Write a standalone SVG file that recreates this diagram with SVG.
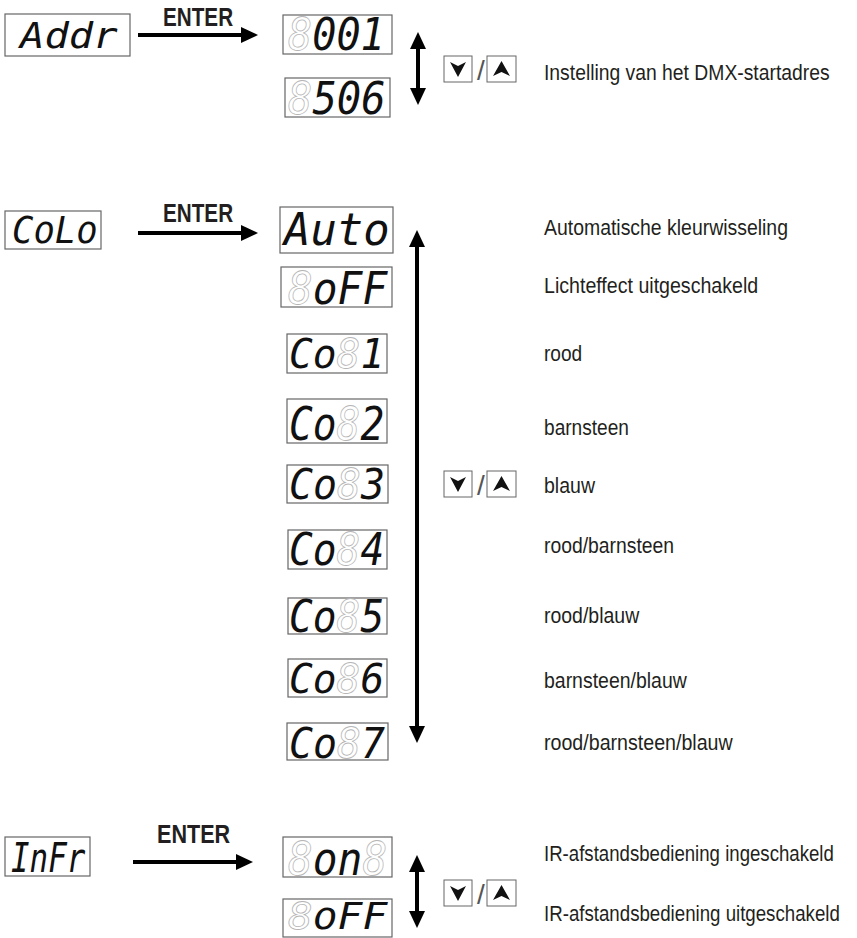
<svg xmlns="http://www.w3.org/2000/svg" width="857" height="938" viewBox="0 0 857 938">
<style>
.box{fill:#fff;stroke:#666;stroke-width:1.2}
.seg{font-family:"DejaVu Sans Mono",monospace;font-style:oblique;fill:#111}
.ghost{fill:none;stroke:#b5b5b5;stroke-width:0.8}
.lbl{font-family:"Liberation Sans",Arial,sans-serif;font-size:22px;fill:#231f20}
.enter{font-family:"Liberation Sans",Arial,sans-serif;font-weight:bold;font-size:26px;fill:#231f20}
.conn{stroke:#000;stroke-width:4;fill:none}
.btn{fill:#fff;stroke:#666;stroke-width:1}
.tri{fill:#111}
.sl{font-family:"Liberation Sans",Arial,sans-serif;font-size:28px;fill:#555}
</style>
<defs>
<marker id="ah" markerUnits="userSpaceOnUse" markerWidth="17" markerHeight="16" refX="5" refY="8" orient="auto-start-reverse" viewBox="0 0 17 16">
<path d="M0,0 L17,8 L0,16 z" fill="#000"/>
</marker>
<g id="btnpair">
<rect class="btn" x="0" y="0" width="28" height="26"/>
<path class="tri" d="M6,6 L14,10 L22,6 L14,21 z"/>
<text class="sl" x="33" y="24">/</text>
<rect class="btn" x="43" y="0" width="29" height="26"/>
<path class="tri" d="M49,20 L57.5,16 L66,20 L57.5,5 z"/>
</g>
</defs>
<rect width="857" height="938" fill="#fff"/>

<g id="connectors">
<line class="conn" x1="138" y1="35" x2="246" y2="35" marker-end="url(#ah)"/>
<line class="conn" x1="418" y1="44" x2="418" y2="93" marker-start="url(#ah)" marker-end="url(#ah)"/>
<line class="conn" x1="138" y1="233" x2="246" y2="233" marker-end="url(#ah)"/>
<line class="conn" x1="417" y1="242" x2="417" y2="731" marker-start="url(#ah)" marker-end="url(#ah)"/>
<line class="conn" x1="133" y1="862" x2="241" y2="862" marker-end="url(#ah)"/>
<line class="conn" x1="417" y1="867" x2="417" y2="916" marker-start="url(#ah)" marker-end="url(#ah)"/>
<text class="enter" transform="translate(163,26) scale(0.77,1)" x="0" y="0" textLength="91" lengthAdjust="spacingAndGlyphs">ENTER</text>
<text class="enter" transform="translate(163,222) scale(0.77,1)" x="0" y="0" textLength="91" lengthAdjust="spacingAndGlyphs">ENTER</text>
<text class="enter" transform="translate(157,843) scale(0.77,1)" x="0" y="0" textLength="95" lengthAdjust="spacingAndGlyphs">ENTER</text>
</g>

<g id="addr"><rect class="box" x="5" y="14" width="125" height="42"/><text class="seg" transform="translate(20,48) scale(0.8,1)" x="0" y="0" font-size="36" textLength="122" lengthAdjust="spacingAndGlyphs">Addr</text></g>
<g id="v001"><rect class="box" x="283" y="15" width="109" height="39"/><text class="seg" transform="translate(288,50) scale(0.8,1)" x="0" y="0" font-size="44" textLength="121" lengthAdjust="spacingAndGlyphs"><tspan class="ghost">8</tspan>001</text></g>
<g id="v506"><rect class="box" x="285" y="78" width="105" height="39"/><text class="seg" transform="translate(288,114) scale(0.8,1)" x="0" y="0" font-size="45" textLength="122" lengthAdjust="spacingAndGlyphs"><tspan class="ghost">8</tspan>506</text></g>
<g id="btn1"><use href="#btnpair" x="444" y="56"/></g>
<g id="lbl-addr"><text class="lbl" transform="translate(544,80) scale(0.85,1)" x="0" y="0" textLength="336" lengthAdjust="spacingAndGlyphs">Instelling van het DMX-startadres</text></g>

<g id="colo"><rect class="box" x="5" y="211" width="96" height="38"/><text class="seg" transform="translate(12,243) scale(0.8,1)" x="0" y="0" font-size="38" textLength="107" lengthAdjust="spacingAndGlyphs">CoLo</text></g>
<g id="auto"><rect class="box" x="280" y="207" width="113" height="46"/><text class="seg" transform="translate(284,245) scale(0.8,1)" x="0" y="0" font-size="44" textLength="132" lengthAdjust="spacingAndGlyphs">Auto</text></g>
<g id="off1"><rect class="box" x="281" y="267" width="111" height="40"/><text class="seg" transform="translate(288,304) scale(0.8,1)" x="0" y="0" font-size="45" textLength="124" lengthAdjust="spacingAndGlyphs"><tspan class="ghost">8</tspan>oFF</text></g>
<g id="co1"><rect class="box" x="287" y="334" width="100" height="39"/><text class="seg" transform="translate(289,368) scale(0.8,1)" x="0" y="0" font-size="41" textLength="119" lengthAdjust="spacingAndGlyphs">Co<tspan class="ghost">8</tspan>1</text></g>
<g id="co2"><rect class="box" x="287" y="399" width="100" height="44"/><text class="seg" transform="translate(289,440) scale(0.8,1)" x="0" y="0" font-size="47" textLength="119" lengthAdjust="spacingAndGlyphs">Co<tspan class="ghost">8</tspan>2</text></g>
<g id="co3"><rect class="box" x="287" y="465" width="101" height="38"/><text class="seg" transform="translate(289,499) scale(0.8,1)" x="0" y="0" font-size="42" textLength="120" lengthAdjust="spacingAndGlyphs">Co<tspan class="ghost">8</tspan>3</text></g>
<g id="co4"><rect class="box" x="288" y="530" width="99" height="39"/><text class="seg" transform="translate(289,565) scale(0.8,1)" x="0" y="0" font-size="44" textLength="119" lengthAdjust="spacingAndGlyphs">Co<tspan class="ghost">8</tspan>4</text></g>
<g id="co5"><rect class="box" x="288" y="598" width="99" height="36"/><text class="seg" transform="translate(289,632) scale(0.8,1)" x="0" y="0" font-size="45" textLength="119" lengthAdjust="spacingAndGlyphs">Co<tspan class="ghost">8</tspan>5</text></g>
<g id="co6"><rect class="box" x="288" y="659" width="99" height="38"/><text class="seg" transform="translate(289,693) scale(0.8,1)" x="0" y="0" font-size="41" textLength="119" lengthAdjust="spacingAndGlyphs">Co<tspan class="ghost">8</tspan>6</text></g>
<g id="co7"><rect class="box" x="287" y="723" width="101" height="37"/><text class="seg" transform="translate(289,758) scale(0.8,1)" x="0" y="0" font-size="42" textLength="120" lengthAdjust="spacingAndGlyphs">Co<tspan class="ghost">8</tspan>7</text></g>
<g id="btn2"><use href="#btnpair" x="444" y="471"/></g>
<g id="lbl-colo">
<text class="lbl" transform="translate(544,235) scale(0.85,1)" x="0" y="0" textLength="287" lengthAdjust="spacingAndGlyphs">Automatische kleurwisseling</text>
<text class="lbl" transform="translate(544,293) scale(0.85,1)" x="0" y="0" textLength="252" lengthAdjust="spacingAndGlyphs">Lichteffect uitgeschakeld</text>
<text class="lbl" transform="translate(544,361) scale(0.85,1)" x="0" y="0" textLength="45" lengthAdjust="spacingAndGlyphs">rood</text>
<text class="lbl" transform="translate(544,435) scale(0.85,1)" x="0" y="0" textLength="100" lengthAdjust="spacingAndGlyphs">barnsteen</text>
<text class="lbl" transform="translate(544,493) scale(0.85,1)" x="0" y="0" textLength="60" lengthAdjust="spacingAndGlyphs">blauw</text>
<text class="lbl" transform="translate(544,553) scale(0.85,1)" x="0" y="0" textLength="153" lengthAdjust="spacingAndGlyphs">rood/barnsteen</text>
<text class="lbl" transform="translate(544,623) scale(0.85,1)" x="0" y="0" textLength="112" lengthAdjust="spacingAndGlyphs">rood/blauw</text>
<text class="lbl" transform="translate(544,688) scale(0.85,1)" x="0" y="0" textLength="168" lengthAdjust="spacingAndGlyphs">barnsteen/blauw</text>
<text class="lbl" transform="translate(544,750) scale(0.85,1)" x="0" y="0" textLength="222" lengthAdjust="spacingAndGlyphs">rood/barnsteen/blauw</text>
</g>

<g id="infr"><rect class="box" x="5" y="837" width="85" height="39"/><text class="seg" transform="translate(11,872) scale(0.8,1)" x="0" y="0" font-size="41" textLength="93" lengthAdjust="spacingAndGlyphs">InFr</text></g>
<g id="on"><rect class="box" x="283" y="837" width="109" height="40"/><text class="seg" transform="translate(288,875) scale(0.8,1)" x="0" y="0" font-size="46" textLength="124" lengthAdjust="spacingAndGlyphs"><tspan class="ghost">8</tspan>on<tspan class="ghost">8</tspan></text></g>
<g id="off2"><rect class="box" x="283" y="899" width="109" height="38"/><text class="seg" transform="translate(288,929) scale(0.8,1)" x="0" y="0" font-size="38" textLength="124" lengthAdjust="spacingAndGlyphs"><tspan class="ghost">8</tspan>oFF</text></g>
<g id="btn3"><use href="#btnpair" x="444" y="880"/></g>
<g id="lbl-infr">
<text class="lbl" transform="translate(544,861) scale(0.85,1)" x="0" y="0" textLength="341" lengthAdjust="spacingAndGlyphs">IR-afstandsbediening ingeschakeld</text>
<text class="lbl" transform="translate(544,921) scale(0.85,1)" x="0" y="0" textLength="348" lengthAdjust="spacingAndGlyphs">IR-afstandsbediening uitgeschakeld</text>
</g>
</svg>
